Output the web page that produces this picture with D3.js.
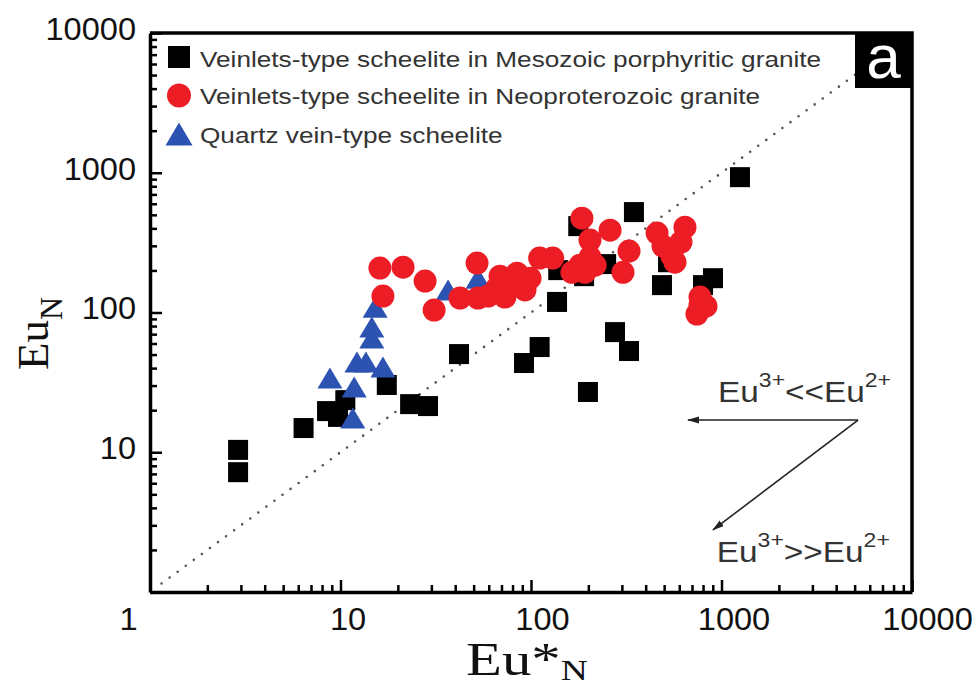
<!DOCTYPE html>
<html>
<head>
<meta charset="utf-8">
<script src="https://cdn.jsdelivr.net/npm/d3@7"></script>
<style>
  body { margin: 0; background: #fff; }
  svg { display: block; font-family: "Liberation Sans", Arial, sans-serif; }
</style>
</head>
<body>
<svg id="chart" width="979" height="685"></svg>
<script>
// Veinlets-type scheelite in Mesozoic porphyritic granite (squares)
const mesoX = [2.9, 2.9, 6.4, 8.5, 9.7, 10.6, 17.5, 23.2, 28.8, 41.9, 91.9, 111, 137, 199, 276, 327, 487, 800, 902, 1250, 347, 524, 248, 177, 139, 190];
const mesoY = [10.4, 7.2, 14.9, 19.7, 17.9, 23.6, 30.3, 22.1, 21.4, 50.4, 43.5, 56.6, 119, 27, 72.4, 53, 157, 157, 176, 930, 523, 229, 222, 415, 201, 182];

// Veinlets-type scheelite in Neoproterozoic granite (circles)
const neoX = [16.1, 21.3, 27.8, 16.7, 31.0, 52.1, 42.4, 52.7, 66.3, 79.4, 93, 98.8, 84.5, 68.8, 59.5, 73, 111, 130, 164, 185, 204, 204, 192, 181, 217, 260, 327, 304, 459, 493, 550, 643, 613, 570, 771, 829, 743, 771];
const neoY = [208, 211, 168, 131, 104, 226, 127, 127, 150, 173, 145, 176, 191, 182, 131, 129, 245, 245, 194, 473, 330, 249, 194, 218, 218, 388, 275, 194, 370, 299, 253, 408, 319, 229, 129, 111, 97.5, 113];

// Quartz vein-type scheelite (triangles)
const qtzX = [15.2, 14.6, 14.6, 12.2, 13.6, 16.7, 8.8, 11.8, 11.6, 36.7, 52.7];
const qtzY = [109, 78.7, 65.6, 44.2, 44.2, 40.7, 34, 29.3, 17.6, 145, 176];

const legendLabels = [
  "Veinlets-type scheelite in Mesozoic porphyritic granite",
  "Veinlets-type scheelite in Neoproterozoic granite",
  "Quartz vein-type scheelite"
];

// arrows (data units) and their labels
const arrowFrom = [5210, 17];
const arrowTo = [[667, 17], [902, 2.78]];
const arrowText = [
  { at: [959, 22.9], a: "3+", rel: "<<", b: "2+" },
  { at: [945, 1.64], a: "3+", rel: ">>", b: "2+" }
];

const svg = d3.select("#chart");
const pLeft = 150, pRight = 912, pTop = 33, pBottom = 592;

const x = d3.scaleLog().domain([1, 10000]).range([pLeft, pRight]);
const y = d3.scaleLog().domain([1, 10000]).range([pBottom, pTop]);

const RED = "#ec1d24", BLUE = "#2c53b2";

// ticks: 1..9 in every decade
const tickVals = [];
[1, 10, 100, 1000].forEach(p => d3.range(1, 10).forEach(k => tickVals.push(k * p)));
tickVals.push(10000);
const isMajor = d => Math.abs(Math.log10(d) - Math.round(Math.log10(d))) < 1e-9;

svg.append("rect").attr("width", 979).attr("height", 685).attr("fill", "#fff");

// 1:1 dotted line
svg.append("line")
  .attr("x1", x(1.15)).attr("y1", y(1.15))
  .attr("x2", x(10000)).attr("y2", y(10000))
  .attr("stroke", "#555").attr("stroke-width", 2.6)
  .attr("stroke-linecap", "round")
  .attr("stroke-dasharray", "0 10");

// x axis (the corner "1" is shared, so only the x axis labels it)
const xLabelShift = { 1: -22, 10: 7, 100: 11, 1000: 12, 10000: 15 };
const gx = svg.append("g")
  .attr("transform", `translate(0,${pBottom})`)
  .call(d3.axisBottom(x).tickValues(tickVals).tickSize(-7).tickSizeOuter(0).tickPadding(16)
    .tickFormat(d => isMajor(d) ? d3.format("d")(d) : ""));
gx.selectAll(".tick line").filter(isMajor).attr("y2", -12);

// y axis
const gy = svg.append("g")
  .attr("transform", `translate(${pLeft},0)`)
  .call(d3.axisLeft(y).tickValues(tickVals).tickSize(-7).tickSizeOuter(0).tickPadding(14)
    .tickFormat(d => isMajor(d) && d > 1 ? d3.format("d")(d) : ""));
gy.selectAll(".tick line").filter(isMajor).attr("x2", 12);

[gx, gy].forEach(g => {
  g.select(".domain").attr("stroke", "#000").attr("stroke-width", 3.5);
  g.selectAll(".tick line").attr("stroke", "#000").attr("stroke-width", 2.5);
  g.selectAll(".tick text").attr("font-size", 31).attr("fill", "#111")
    .attr("font-family", "'Liberation Sans', Arial, sans-serif");
});
gx.selectAll(".tick text").each(function (d) {
  const t = d3.select(this);
  const yy = +t.attr("y");
  t.attr("y", null).attr("dy", null)
    .attr("transform", `translate(${xLabelShift[d] || 0},${yy + 22}) scale(1.05,1)`);
});
gy.selectAll(".tick text").each(function () {
  const t = d3.select(this);
  const xx = +t.attr("x");
  t.attr("x", null).attr("dy", "0.3em")
    .attr("transform", `translate(${xx},-3) scale(1.05,1)`);
});

// top and right frame
svg.append("path")
  .attr("d", `M${pLeft},${pTop}H${pRight}V${pBottom}`)
  .attr("fill", "none").attr("stroke", "#000").attr("stroke-width", 3.5);

// data points: squares, then triangles, then circles on top
const sq = 20;
svg.append("g").selectAll("rect")
  .data(mesoX.map((v, i) => [v, mesoY[i]]))
  .join("rect")
  .attr("x", d => x(d[0]) - sq / 2).attr("y", d => y(d[1]) - sq / 2)
  .attr("width", sq).attr("height", sq).attr("fill", "#000");

const triW = 25, triH = 21;
const triPath = (w, h) => `M0,${-h / 2}L${w / 2},${h / 2}L${-w / 2},${h / 2}Z`;
svg.append("g").selectAll("path")
  .data(qtzX.map((v, i) => [v, qtzY[i]]))
  .join("path")
  .attr("d", triPath(triW, triH))
  .attr("transform", d => `translate(${x(d[0])},${y(d[1])})`)
  .attr("fill", BLUE);

svg.append("g").selectAll("circle")
  .data(neoX.map((v, i) => [v, neoY[i]]))
  .join("circle")
  .attr("cx", d => x(d[0])).attr("cy", d => y(d[1])).attr("r", 11.5)
  .attr("fill", RED);

// legend
const legend = svg.append("g").attr("transform", `translate(${pLeft + 29},57)`);
legendLabels.forEach((label, i) => {
  const row = legend.append("g").attr("transform", `translate(0,${i * 38.5})`);
  if (i === 0) row.append("rect").attr("x", -11).attr("y", -11).attr("width", 22).attr("height", 22).attr("fill", "#000");
  if (i === 1) row.append("circle").attr("r", 12).attr("fill", RED);
  if (i === 2) row.append("path").attr("d", triPath(27, 23)).attr("fill", BLUE);
  row.append("text")
    .attr("transform", `translate(21,${i === 0 ? 10 : 8.5}) scale(1.19,1)`)
    .attr("font-size", 22).attr("fill", "#333")
    .text(label);
});

// panel label "a"
svg.append("rect").attr("x", pRight - 57).attr("y", pTop).attr("width", 57).attr("height", 55).attr("fill", "#000");
svg.append("text").attr("x", pRight - 28.5).attr("y", pTop + 45)
  .attr("text-anchor", "middle").attr("font-size", 62).attr("fill", "#fff").text("a");

// arrows
svg.append("defs").append("marker")
  .attr("id", "head").attr("viewBox", "0 -5 12 10")
  .attr("refX", 11).attr("refY", 0)
  .attr("markerWidth", 12).attr("markerHeight", 10)
  .attr("markerUnits", "userSpaceOnUse").attr("orient", "auto")
  .append("path").attr("d", "M0,-3.5L12,0L0,3.5Z").attr("fill", "#222");
arrowTo.forEach(t => {
  svg.append("line")
    .attr("x1", x(arrowFrom[0])).attr("y1", y(arrowFrom[1]))
    .attr("x2", x(t[0])).attr("y2", y(t[1]))
    .attr("stroke", "#222").attr("stroke-width", 1.6)
    .attr("marker-end", "url(#head)");
});
arrowText.forEach(a => {
  const t = svg.append("text")
    .attr("transform", `translate(${x(a.at[0])},${y(a.at[1])}) scale(1.15,1)`)
    .attr("font-size", 29).attr("fill", "#333");
  t.append("tspan").text("Eu");
  t.append("tspan").attr("font-size", 20).attr("dy", -15).text(a.a);
  t.append("tspan").attr("dy", 15).text(a.rel);
  t.append("tspan").text("Eu");
  t.append("tspan").attr("font-size", 20).attr("dy", -15).text(a.b);
});

// axis titles
const serif = "'Liberation Serif', 'Times New Roman', serif";
const xt = svg.append("text")
  .attr("transform", "translate(466,675) scale(1.25,1)")
  .attr("font-family", serif).attr("font-size", 47).attr("fill", "#111");
xt.append("tspan").text("Eu*");
xt.append("tspan").attr("font-size", 30).attr("dy", 5).text("N");

const yt = svg.append("text")
  .attr("transform", "translate(48,370) rotate(-90)")
  .attr("font-family", serif).attr("font-size", 45).attr("fill", "#111");
yt.append("tspan").text("Eu");
yt.append("tspan").attr("font-size", 32).attr("dy", 14).text("N");
</script>
</body>
</html>
